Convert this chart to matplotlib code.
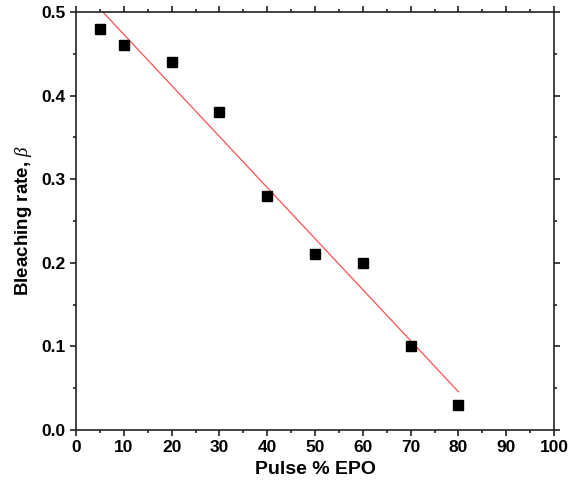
import numpy as np
import matplotlib
matplotlib.use("Agg")
import matplotlib.pyplot as plt
from matplotlib.ticker import MultipleLocator, FormatStrFormatter

plt.rcParams['font.family'] = ['Liberation Sans', 'DejaVu Sans']
plt.rcParams['mathtext.fontset'] = 'custom'
plt.rcParams['mathtext.it'] = 'Liberation Serif:italic'

pulse_epo = [5, 10, 20, 30, 40, 50, 60, 70, 80]
bleaching_rate = [0.48, 0.46, 0.44, 0.38, 0.28, 0.21, 0.20, 0.10, 0.03]

fig = plt.figure(figsize=(5.78, 4.86), dpi=100)
ax = fig.add_axes([0.1315, 0.1152, 0.827, 0.8601])

# linear fit over the measured range
coef = np.polyfit(pulse_epo, bleaching_rate, 1)
xf = np.array([min(pulse_epo), max(pulse_epo)])
ax.plot(xf, np.polyval(coef, xf), color='#ff5050', lw=0.9, zorder=2)

ax.plot(pulse_epo, bleaching_rate, 's', color='black', ms=7, zorder=3)

ax.set_xlim(0, 100)
ax.set_ylim(0, 0.5)
ax.xaxis.set_major_locator(MultipleLocator(10))
ax.xaxis.set_minor_locator(MultipleLocator(5))
ax.yaxis.set_major_locator(MultipleLocator(0.1))
ax.yaxis.set_minor_locator(MultipleLocator(0.05))
ax.yaxis.set_major_formatter(FormatStrFormatter('%.1f'))

for s in ax.spines.values():
    s.set_linewidth(1.2)
    s.set_color('#222222')
ax.tick_params(which='both', direction='out', top=True, right=True,
               width=1.2, color='#222222')
ax.tick_params(which='major', length=4.5, labelsize=12.5, pad=3)
ax.tick_params(which='minor', length=2.5)
for lab in ax.get_xticklabels() + ax.get_yticklabels():
    lab.set_fontweight('bold')

ax.set_xlabel('Pulse % EPO', fontsize=14, fontweight='bold', labelpad=4)
ax.set_ylabel(r'Bleaching rate, $\beta$', fontsize=13.5, fontweight='bold', labelpad=5)

fig.savefig('out.png', dpi=100)
